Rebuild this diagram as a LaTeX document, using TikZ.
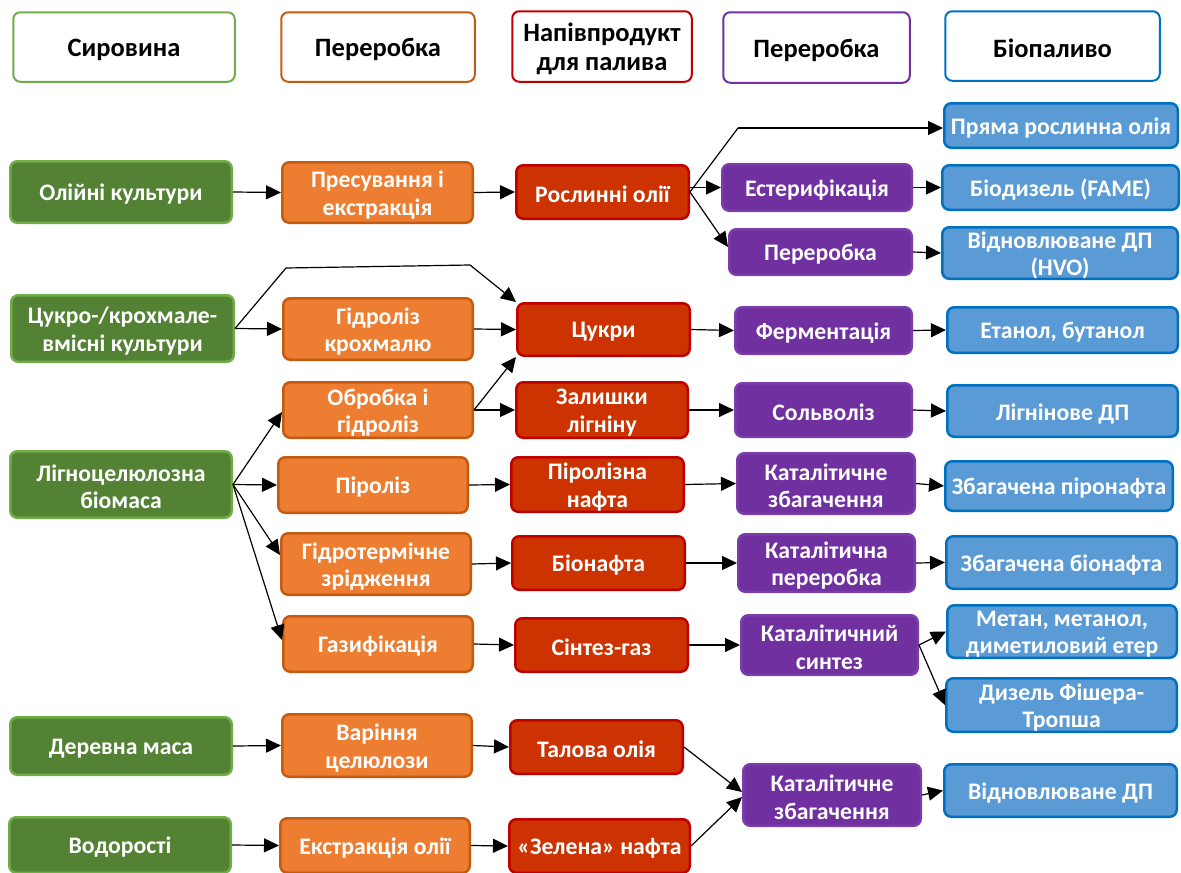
\documentclass[tikz,border=0pt]{standalone}
\usepackage{fontspec}
\setmainfont{Carlito}
\usetikzlibrary{arrows.meta}
\definecolor{gfill}{HTML}{548235}
\definecolor{gline}{HTML}{70AD47}
\definecolor{ofill}{HTML}{ED7D31}
\definecolor{oline}{HTML}{C55A11}
\definecolor{rfill}{HTML}{CC3300}
\definecolor{rline}{HTML}{C00000}
\definecolor{pfill}{HTML}{7030A0}
\definecolor{pline}{HTML}{7A3DAA}
\definecolor{bfill}{HTML}{5B9BD5}
\definecolor{bline}{HTML}{0070C0}
\newcommand{\bx}[7]{\node[#2,minimum width={#5-#3-2.5},minimum height={#6-#4-2.5}] (#1) at ({(#3+#5)/2},{(#4+#6)/2}) {};
  \node[#2,draw=none,fill=none,minimum width=0pt,minimum height=0pt] (#1-t) at ([yshift=-2.5pt]#1.center) {#7};}
\begin{document}
\begin{tikzpicture}[x=1pt,y=-1pt,
  box/.style={rounded corners=7pt,line width=2.5pt,inner sep=1pt,align=center,text=white,font=\fontsize{23.7}{27.5}\selectfont\bfseries},
  hdr/.style={box,fill=white,text=black,line width=2pt,font=\fontsize{26.5}{29.5}\selectfont\bfseries},
  gbox/.style={box,fill=gfill,draw=gline},
  obox/.style={box,fill=ofill,draw=oline},
  rbox/.style={box,fill=rfill,draw=rline},
  pbox/.style={box,fill=pfill,draw=pline},
  bbox/.style={box,fill=bfill,draw=bline},
  ln/.style={line width=1.2pt},
  arr/.style={line width=1.2pt,-{Triangle[length=15pt,width=14pt]}}]
\useasboundingbox (0,0) rectangle (1181,873);
% headers
\bx{h1}{hdr,draw=gline}{12}{11}{236}{83}{Сировина}
\bx{h2}{hdr,draw=oline}{280}{11}{476}{83}{Переробка}
\bx{h3}{hdr,draw=rline}{511}{10}{693}{83}{Напівпродукт\\для палива}
\bx{h4}{hdr,draw=pfill}{722}{11}{911}{84}{Переробка}
\bx{h5}{hdr,draw=bline}{944}{10}{1161}{82}{Біопаливо}
% row 1
\bx{oil}{gbox}{9}{160}{233}{224}{Олійні культури}
\bx{press}{obox}{281}{161}{474}{224}{Пресування і\\екстракція}
\bx{vegoil}{rbox}{515}{164}{690}{220}{Рослинні олії}
\bx{spo}{bbox}{943}{102}{1179}{149}{Пряма рослинна олія}
\bx{ester}{pbox}{721}{163}{913}{212}{Естерифікація}
\bx{biod}{bbox}{941}{164}{1180}{211}{Біодизель (FAME)}
\bx{perer}{pbox}{728}{228}{913}{276}{Переробка}
\bx{hvo}{bbox}{941}{226}{1179}{280}{Відновлюване ДП\\(HVO)}
% row 2
\bx{sugarcrop}{gbox}{10}{294}{235}{363}{Цукро-/крохмале-\\вмісні культури}
\bx{hydst}{obox}{282}{297}{474}{361}{Гідроліз\\крохмалю}
\bx{sugars}{rbox}{516}{302}{691}{357}{Цукри}
\bx{ferm}{pbox}{734}{306}{913}{355}{Ферментація}
\bx{eth}{bbox}{946}{306}{1179}{354}{Етанол, бутанол}
% row 3
\bx{treat}{obox}{282}{381}{474}{439}{Обробка і\\гідроліз}
\bx{lign}{rbox}{515}{381}{689}{439}{Залишки\\лігніну}
\bx{solv}{pbox}{734}{382}{913}{438}{Сольволіз}
\bx{lfuel}{bbox}{946}{384}{1179}{438}{Лігнінове ДП}
% row 4
\bx{lcb}{gbox}{9}{450}{233}{519}{Лігноцелюлозна\\біомаса}
\bx{pyro}{obox}{277}{456}{469}{514}{Піроліз}
\bx{pyrooil}{rbox}{510}{456}{685}{513}{Піролізна\\нафта}
\bx{catup}{pbox}{736}{452}{916}{515}{Каталітичне\\збагачення}
\bx{upgpyro}{bbox}{944}{460}{1174}{512}{Збагачена піронафта}
% row 5
\bx{htl}{obox}{280}{532}{472}{596}{Гідротермічне\\зрідження}
\bx{bion}{rbox}{511}{535}{686}{591}{Біонафта}
\bx{catproc}{pbox}{737}{533}{916}{593}{Каталітична\\переробка}
\bx{upgbio}{bbox}{945}{535}{1178}{590}{Збагачена біонафта}
% row 6
\bx{gasif}{obox}{282}{615}{474}{673}{Газифікація}
\bx{syng}{rbox}{514}{617}{689}{673}{Сінтез-газ}
\bx{catsyn}{pbox}{740}{614}{919}{676}{Каталітичний\\синтез}
\bx{meth}{bbox}{946}{604}{1178}{659}{Метан, метанол,\\диметиловий етер}
\bx{ft}{bbox}{945}{677}{1178}{733}{Дизель Фішера-\\Тропша}
% rows 7-8
\bx{wood}{gbox}{9}{716}{233}{776}{Деревна маса}
\bx{pulp}{obox}{281}{713}{473}{778}{Варіння\\целюлози}
\bx{tall}{rbox}{509}{719}{684}{775}{Талова олія}
\bx{algae}{gbox}{8}{816}{232}{874}{Водорості}
\bx{oilext}{obox}{279}{817}{471}{874}{Екстракція олії}
\bx{green}{rbox}{508}{818}{691}{874}{«Зелена» нафта}
\bx{catup2}{pbox}{742}{763}{922}{827}{Каталітичне\\збагачення}
\bx{rendp}{bbox}{943}{763}{1178}{818}{Відновлюване ДП}
% coordinates
\coordinate (k1) at (738,128);
\coordinate (k2) at (286,268);
\coordinate (k3) at (470,265);
% connectors row 1
\draw[arr] (oil.east) -- (press.west);
\draw[arr] (press.east) -- (vegoil.west);
\draw[ln] (vegoil.east) -- (k1);
\draw[arr] (k1) -- (k1 -| spo.west);
\draw[arr] (vegoil.east |- ester.west) -- (ester.west);
\draw[arr] (vegoil.east) -- ([yshift=5pt]perer.west);
\draw[arr] (ester.east) -- (biod.west);
\draw[arr] (perer.east) -- (hvo.west);
% row 2
\draw[arr] (sugarcrop.east) -- (hydst.west);
\draw[arr] (sugarcrop.east) -- (k2) -- (k3) -- (sugars.north west);
\draw[arr] (hydst.east) -- (sugars.west);
\draw[arr] (sugars.east) -- (ferm.west);
\draw[arr] (ferm.east) -- (eth.west);
% row 3
\draw[arr] (treat.east) -- (sugars.south west);
\draw[arr] (treat.east) -- (lign.west);
\draw[arr] (lign.east) -- (solv.west);
\draw[arr] (solv.east) -- (lfuel.west);
% lignocellulose
\draw[arr] (lcb.east) -- ([yshift=-2pt]treat.west);
\draw[arr] (lcb.east) -- (pyro.west);
\draw[arr] (lcb.east) -- ([yshift=9pt]htl.west);
\draw[arr] (lcb.east) -- ([yshift=4pt]gasif.west);
\draw[arr] (pyro.east) -- (pyrooil.west);
\draw[arr] (pyrooil.east) -- (catup.west);
\draw[arr] (catup.east) -- (upgpyro.west);
\draw[arr] (htl.east) -- (bion.west);
\draw[arr] (bion.east) -- (catproc.west);
\draw[arr] (catproc.east) -- (upgbio.west);
\draw[arr] (gasif.east) -- (syng.west);
\draw[arr] (syng.east) -- (catsyn.west);
\draw[arr] (catsyn.east) -- (meth.west);
\draw[arr] (catsyn.east) -- (ft.west);
% bottom
\draw[arr] (wood.east) -- (pulp.west);
\draw[arr] (pulp.east) -- (tall.west);
\draw[arr] (algae.east) -- (oilext.west);
\draw[arr] (oilext.east) -- (green.west);
\draw[arr] (tall.east) -- ([yshift=3pt]catup2.west);
\draw[arr] (green.east) -- ([yshift=-2pt]catup2.west);
\draw[arr] (catup2.east) -- (rendp.west);
\end{tikzpicture}
\end{document}
